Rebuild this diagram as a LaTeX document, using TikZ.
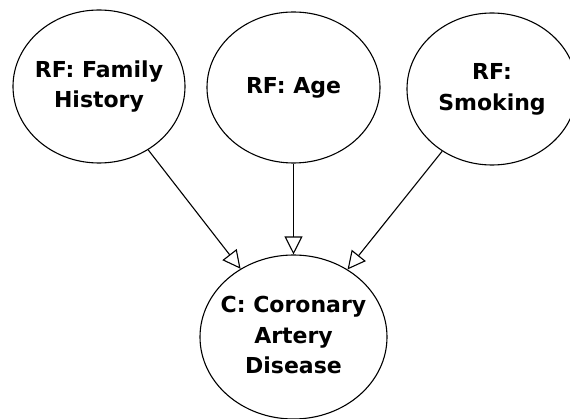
\documentclass[tikz,border=0pt]{standalone}
\usepackage{fontspec}
\setmainfont{DejaVu Sans}
\usetikzlibrary{shapes.geometric,arrows.meta}
\newcommand\zerobox[1]{\makebox[0pt]{\begin{tabular}{@{}c@{}}#1\end{tabular}}}
\begin{document}
\begin{tikzpicture}[x=1pt,y=-1pt,
  var/.style={draw=black, line width=1.1pt, ellipse, inner sep=0pt,
    font=\fontsize{22}{30.5}\selectfont\bfseries},
  edge/.style={draw=black, line width=1.1pt, -{Triangle[open,length=18pt,width=18pt,line width=1.1pt]}}]
\useasboundingbox[fill=white] (0,0) rectangle (570,419);
\node[var, minimum width=172pt, minimum height=153pt] (fh) at (99,86.5) {\zerobox{RF: Family\\History}};
\node[var, minimum width=173pt, minimum height=151pt] (age) at (293.5,87.5) {\zerobox{RF: Age}};
\node[var, minimum width=170pt, minimum height=152pt] (sm) at (492,89) {\zerobox{RF:\\Smoking}};
\node[var, minimum width=187pt, minimum height=164pt] (cad) at (293.5,337) {\zerobox{C: Coronary\\Artery\\Disease}};
\draw[edge] (fh) -- (cad);
\draw[edge] (age) -- (cad);
\draw[edge] (sm) -- (cad);
\end{tikzpicture}
\end{document}
